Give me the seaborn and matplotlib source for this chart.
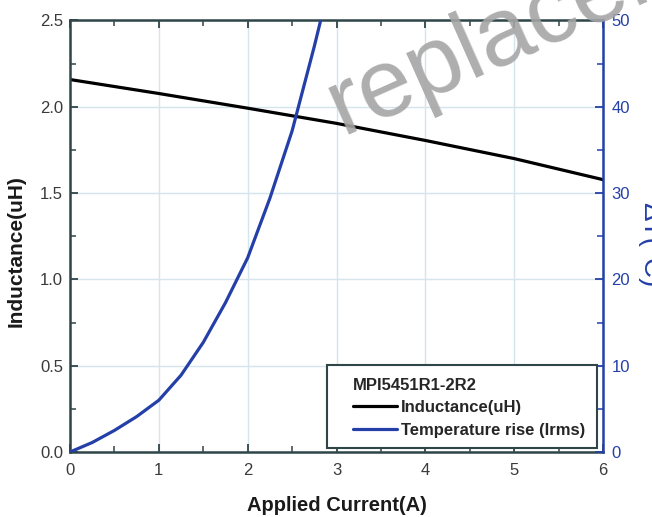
import matplotlib
matplotlib.use("Agg")
import matplotlib.pyplot as plt
from matplotlib.ticker import MultipleLocator, FormatStrFormatter
from matplotlib.patches import Rectangle
import seaborn as sns
import pandas as pd

# Inductance vs. applied current
current_l = [0, 1, 2, 3, 4, 5, 6]
inductance = [2.158, 2.077, 1.992, 1.904, 1.805, 1.700, 1.578]

# Temperature rise vs. applied current (Irms)
current_t = [0, 0.25, 0.5, 0.75, 1.0, 1.25, 1.5, 1.75, 2.0, 2.25, 2.5, 2.75, 2.85]
temp_rise = [0, 1.1, 2.5, 4.1, 6.0, 8.9, 12.7, 17.3, 22.5, 29.4, 37.2, 47.0, 51.2]

part_name = "MPI5451R1-2R2"
label_l = "Inductance(uH)"
label_t = "Temperature rise (Irms)"

BLUE = "#2440a8"
DARK = "#2f4548"
GRID = "#d6e4ec"

sns.set_style("white")
plt.rcParams["font.family"] = ["Liberation Sans", "DejaVu Sans"]

fig = plt.figure(figsize=(6.52, 5.17), dpi=100)
ax = fig.add_axes([70 / 652, 1 - 452 / 517, 533 / 652, 431.5 / 517])
ax2 = ax.twinx()

df_l = pd.DataFrame({"I": current_l, "L": inductance})
df_t = pd.DataFrame({"I": current_t, "T": temp_rise})

sns.lineplot(data=df_l, x="I", y="L", ax=ax, color="black", lw=2.3,
             label=label_l, legend=False, solid_joinstyle="round")
sns.lineplot(data=df_t, x="I", y="T", ax=ax2, color=BLUE, lw=2.3,
             label=label_t, legend=False, solid_joinstyle="round")

ax.set_xlim(0, 6)
ax.set_ylim(0, 2.5)
ax2.set_ylim(0, 50)

ax.xaxis.set_major_locator(MultipleLocator(1))
ax.xaxis.set_minor_locator(MultipleLocator(0.5))
ax.yaxis.set_major_locator(MultipleLocator(0.5))
ax.yaxis.set_minor_locator(MultipleLocator(0.25))
ax.yaxis.set_major_formatter(FormatStrFormatter("%.1f"))
ax2.yaxis.set_major_locator(MultipleLocator(10))
ax2.yaxis.set_minor_locator(MultipleLocator(5))

ax.grid(True, which="major", color=GRID, lw=1.0)
ax.set_axisbelow(True)

ax.tick_params(axis="x", which="both", direction="in", top=True, bottom=True,
               colors=DARK, labelcolor="#3a3a3a", labelsize=12, pad=8)
ax.tick_params(axis="x", which="major", length=6, width=1.3)
ax.tick_params(axis="x", which="minor", length=4, width=1.1)
ax.tick_params(axis="y", which="both", direction="in", left=True, right=False,
               colors=DARK, labelcolor="#3a3a3a", labelsize=12, pad=5)
ax.tick_params(axis="y", which="major", length=6, width=1.3)
ax.tick_params(axis="y", which="minor", length=4, width=1.1)
ax2.tick_params(axis="y", which="both", direction="in", colors=BLUE,
                labelcolor=BLUE, labelsize=12, pad=6)
ax2.tick_params(axis="y", which="major", length=6, width=1.3)
ax2.tick_params(axis="y", which="minor", length=4, width=1.1)

for s in ["left", "bottom", "top"]:
    ax.spines[s].set_color(DARK)
    ax.spines[s].set_linewidth(1.8)
ax.spines["right"].set_visible(False)
for s in ["left", "bottom", "top"]:
    ax2.spines[s].set_visible(False)
ax2.spines["right"].set_color(BLUE)
ax2.spines["right"].set_linewidth(1.8)

ax.set_xlabel("Applied Current(A)", fontsize=14.5, fontweight="bold", color="#1a1a1a")
ax.xaxis.set_label_coords(0.5, -0.103)
ax.set_ylabel(label_l, fontsize=15, fontweight="bold", color="#1a1a1a")
ax.yaxis.set_label_coords(-0.084, 0.466)
ax2.set_ylabel("")
fig.text(650 / 652, 1 - 245 / 517, "ΔT(°C)", rotation=270, fontsize=20, color=BLUE,
         ha="center", va="center")

# legend box with the part number as title
ax2.add_patch(Rectangle((0.482, 0.0093), 0.507, 0.1923, transform=ax2.transAxes,
                        facecolor="white", edgecolor=DARK, lw=1.5, zorder=5))
handles = ax.get_lines()[:1] + ax2.get_lines()[:1]
leg = ax2.legend(handles, [label_l, label_t], title=part_name, loc="upper left",
                 bbox_to_anchor=(0.531, 0.172), fontsize=12, title_fontsize=12,
                 handlelength=2.65, handletextpad=0.2, borderpad=0, borderaxespad=0,
                 labelspacing=0.45, frameon=False, alignment="left")
leg.set_zorder(6)
leg.get_title().set_fontweight("bold")
for t in leg.get_texts():
    t.set_fontweight("bold")

# watermark
fig.text(314 / 652, 1 - 133 / 517, "replacement", rotation=24, fontsize=70,
         color="#a5a5a5", alpha=0.9, ha="left", va="baseline", zorder=10)

fig.savefig("out.png", dpi=100)
